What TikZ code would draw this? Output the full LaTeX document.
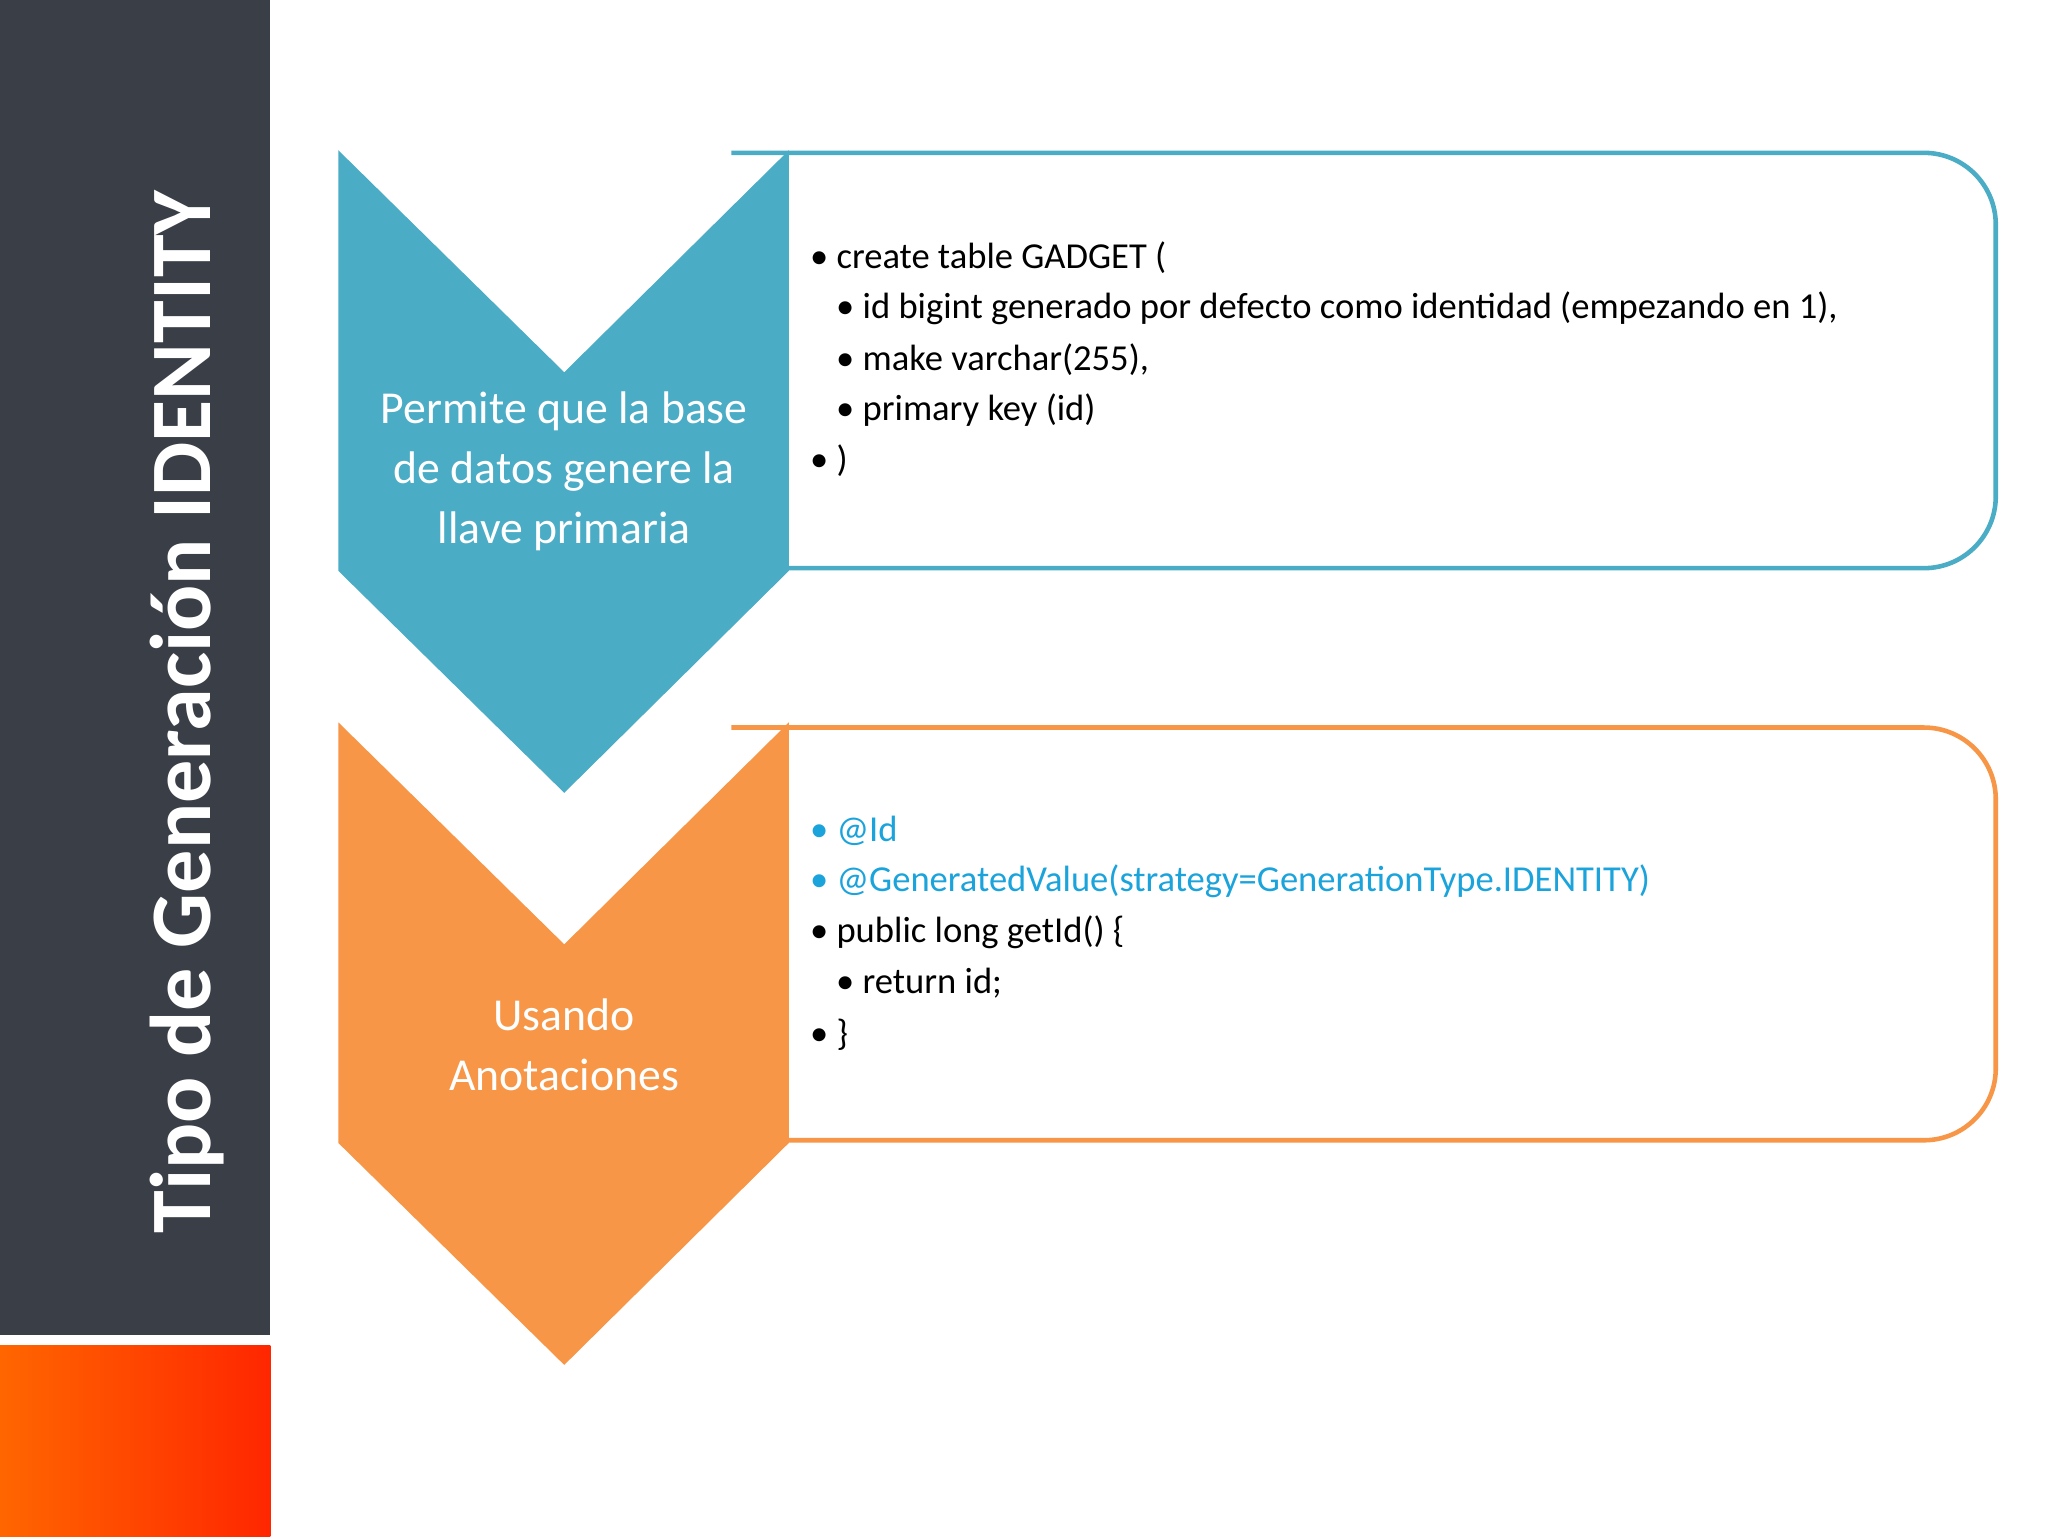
\documentclass[tikz,border=0pt]{standalone}
\usepackage{fontspec}
\setmainfont{Carlito}
\begin{document}
\begin{tikzpicture}[x=1pt,y=-1pt,
  box/.style={line width=3.5pt,rounded corners=55pt},
  chev/.style={draw=none},
  ctext/.style={text=white,align=center,font=\fontsize{35}{46}\selectfont},
  bul/.style={anchor=west,inner sep=0pt,font=\fontsize{28}{34}\selectfont}]
\definecolor{cblue}{HTML}{4BACC6}
\definecolor{corange}{HTML}{F79646}
\definecolor{dark}{HTML}{3A3E47}
\definecolor{code}{HTML}{1BA3DC}
\useasboundingbox (0,0) rectangle (1568,1176);
\fill[white] (0,0) rectangle (1568,1176);
\fill[dark] (0,0) rectangle (207,1022);
\shade[left color=orange!80!red, right color=red!70!orange] (0,1030) rectangle (207,1176);
\node[rotate=90,text=white,font=\bfseries\fontsize{66}{70}\selectfont] (title) at (143,545) {Tipo de Generación IDENTITY};
% blue
\draw[box,draw=cblue] (560,117) -- (1528,117) -- (1528,435) -- (560,435);
\fill[cblue] (259,115) -- (432,285) -- (604,115) -- (604,437) -- (432,607) -- (259,437) -- cycle;
\node[ctext] (t1) at (432,361) {Permite que la base\\de datos genere la\\llave primaria};
\node[bul] (a1) at (620,197) {• create table GADGET (};
\node[bul] (a2) at (640,236) {• id bigint generado por defecto como identidad (empezando en 1),};
\node[bul] (a3) at (640,275) {• make varchar(255),};
\node[bul] (a4) at (640,314) {• primary key (id)};
\node[bul] (a5) at (620,353) {• )};
% orange
\draw[box,draw=corange] (560,557) -- (1528,557) -- (1528,873) -- (560,873);
\fill[corange] (259,553) -- (432,723) -- (604,553) -- (604,875) -- (432,1045) -- (259,875) -- cycle;
\node[ctext] (t2) at (432,800) {Usando\\Anotaciones};
\node[bul,text=code] (b1) at (620,636) {• @Id};
\node[bul,text=code] (b2) at (620,675) {• @GeneratedValue(strategy=GenerationType.IDENTITY)};
\node[bul] (b3) at (620,714) {• public long getId() \{};
\node[bul] (b4) at (640,753) {• return id;};
\node[bul] (b5) at (620,792) {• \}};
\end{tikzpicture}
\end{document}
